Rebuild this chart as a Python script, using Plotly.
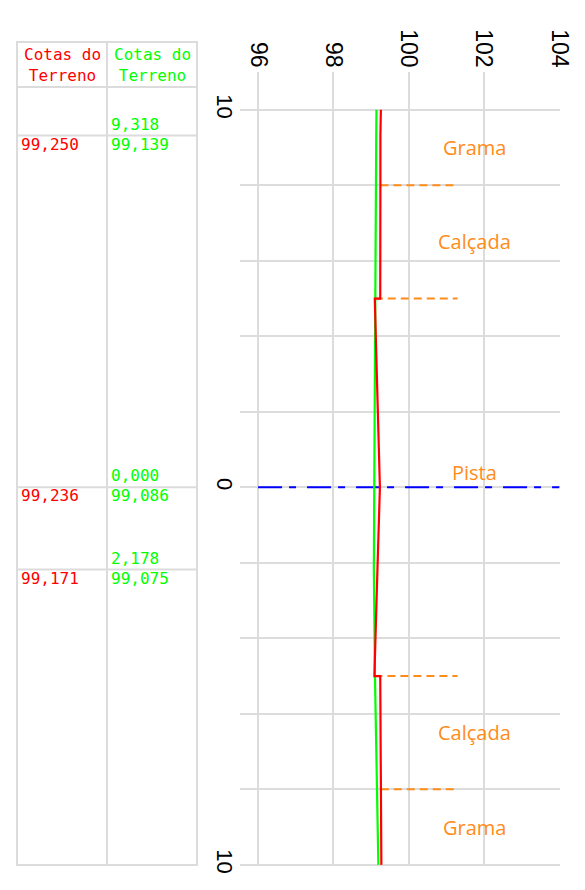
import plotly.graph_objects as go

# perfil transversal: distância ao eixo (m) x cota (m)
dist_red = [10, 9.318, 8, 5, 5, 0, -2.178, -5, -5, -8, -10]
cota_red = [99.262, 99.250, 99.249, 99.245, 99.100, 99.236, 99.171, 99.090, 99.245, 99.260, 99.275]

dist_green = [10, 9.318, 0, -2.178, -5, -8, -10]
cota_green = [99.145, 99.139, 99.086, 99.075, 99.105, 99.150, 99.195]

# tabela de cotas
table_dist = [9.318, 0.000, -2.178]
table_red = [99.250, 99.236, 99.171]
table_green = [99.139, 99.086, 99.075]

# faixas
zone_names = ["Grama", "Calçada", "Pista", "Calçada", "Grama"]
zone_edges = [10, 8, 5, -5, -8, -10]
zone_marks = [8, 5, -5, -8]
mark_end = 101.3
axis_line = [96, 104]

elev_ticks = [96, 98, 100, 102, 104]
dist_ticks = [-10, -8, -6, -4, -2, 0, 2, 4, 6, 8, 10]
dist_labels = ["10", "", "", "", "", "0", "", "", "", "", "10"]

W, H = 577, 882
ORANGE = "#FF8C1A"
GRID = "#DCDCDC"


def fmt(v):
    return f"{abs(v):.3f}".replace(".", ",")


fig = go.Figure()

# linha de eixo
fig.add_trace(go.Scatter(
    x=axis_line, y=[0, 0], mode="lines",
    line=dict(color="#0000FF", width=2, dash="24px,7px,7px,11px"),
    showlegend=False, hoverinfo="skip"
))

# divisões das faixas
for d in zone_marks:
    start = min(c for dd, c in zip(dist_red, cota_red) if dd == d)
    fig.add_trace(go.Scatter(
        x=[start, mark_end], y=[d, d], mode="lines",
        line=dict(color=ORANGE, width=2, dash="8px,5px"),
        showlegend=False, hoverinfo="skip"
    ))

fig.add_trace(go.Scatter(x=cota_green, y=dist_green, mode="lines",
                         line=dict(color="#00FF00", width=2.2), showlegend=False))
fig.add_trace(go.Scatter(x=cota_red, y=dist_red, mode="lines",
                         line=dict(color="#FF0000", width=2.2), showlegend=False))

# nomes das faixas
for i, name in enumerate(zone_names):
    mid = (zone_edges[i] + zone_edges[i + 1]) / 2
    fig.add_annotation(
        x=101.74, y=mid, xref="x", yref="y", text=name, showarrow=False,
        yshift=15 if name == "Pista" else 0,
        font=dict(family="Open Sans", size=20, color=ORANGE)
    )

# tabela
tx0, tx1, tx2 = 9 / W, 99 / W, 189 / W
ty0, ty1, ty2 = 1 - 34 / H, 1 - 79 / H, 1 - 857 / H
line = dict(color=GRID, width=2)
fig.add_shape(type="rect", xref="paper", yref="paper", x0=tx0, x1=tx2, y0=ty2, y1=ty0, line=line)
fig.add_shape(type="line", xref="paper", yref="paper", x0=tx1, x1=tx1, y0=ty2, y1=ty0, line=line)
fig.add_shape(type="line", xref="paper", yref="paper", x0=tx0, x1=tx2, y0=ty1, y1=ty1, line=line)
for d in table_dist:
    fig.add_shape(type="line", xref="paper", yref="y", x0=tx0, x1=tx2, y0=d, y1=d, line=line)

tfont = "DejaVu Sans Mono"
for xc, color in [((tx0 + tx1) / 2, "#FF0000"), ((tx1 + tx2) / 2, "#00FF00")]:
    fig.add_annotation(
        x=xc, y=(ty0 + ty1) / 2, xref="paper", yref="paper",
        text="Cotas do<br>Terreno", showarrow=False, align="center",
        xanchor="center", yanchor="middle",
        font=dict(family=tfont, size=16, color=color)
    )

for d, cr, cg in zip(table_dist, table_red, table_green):
    fig.add_annotation(x=11 / W, y=d, xref="paper", yref="y", text=fmt(cr),
                       showarrow=False, xanchor="left", yanchor="top", yshift=3,
                       font=dict(family=tfont, size=16, color="#FF0000"))
    fig.add_annotation(x=101 / W, y=d, xref="paper", yref="y", text=fmt(cg),
                       showarrow=False, xanchor="left", yanchor="top", yshift=3,
                       font=dict(family=tfont, size=16, color="#00FF00"))
    fig.add_annotation(x=101 / W, y=d, xref="paper", yref="y", text=fmt(d),
                       showarrow=False, xanchor="left", yanchor="bottom", yshift=0,
                       font=dict(family=tfont, size=16, color="#00FF00"))

fig.update_layout(
    template="none",
    width=W, height=H,
    margin=dict(l=0, r=0, t=0, b=0),
    paper_bgcolor="white", plot_bgcolor="white",
    showlegend=False,
    xaxis=dict(
        domain=[232 / W, 552 / W], range=[95.52, 104.02], side="top",
        tickvals=elev_ticks, tickangle=90, showgrid=True, gridcolor=GRID, gridwidth=1.5,
        zeroline=False, showline=False, ticks="", automargin=False,
        tickfont=dict(family="Liberation Sans", size=23, color="black")
    ),
    yaxis=dict(
        domain=[24 / H, 818 / H], range=[-10.03, 11.0],
        tickvals=dist_ticks, ticktext=dist_labels, tickangle=90,
        showgrid=True, gridcolor=GRID, gridwidth=1.5,
        zeroline=False, showline=False, ticks="", automargin=False,
        tickfont=dict(family="Liberation Sans", size=22, color="black")
    ),
)

fig.write_html("out.html")
